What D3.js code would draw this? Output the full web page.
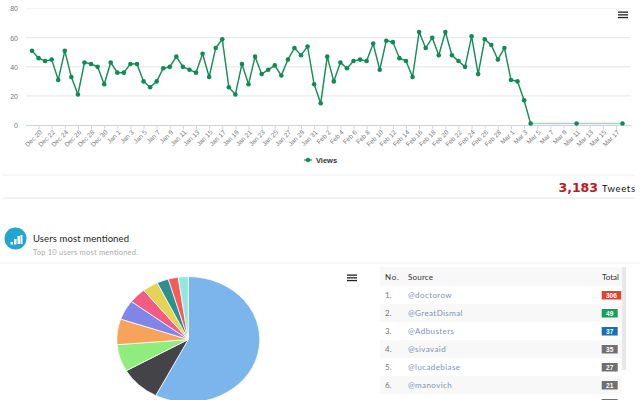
<!DOCTYPE html>
<html>
<head>
<meta charset="utf-8">
<script src="https://cdn.jsdelivr.net/npm/d3@7"></script>
<style>
  body { margin: 0; background: #fff; overflow: hidden; }
  svg { display: block; }
  .axis text { font-family: "Liberation Sans", sans-serif; font-size: 6.5px; fill: #777; }
  .ui { font-family: Lato, sans-serif; }
</style>
</head>
<body>
<svg id="chart" width="640" height="400"></svg>
<script>
const days = [
  'Dec 19','Dec 20','Dec 21','Dec 22','Dec 23','Dec 24','Dec 25','Dec 26','Dec 27','Dec 28','Dec 29','Dec 30','Dec 31',
  'Jan 1','Jan 2','Jan 3','Jan 4','Jan 5','Jan 6','Jan 7','Jan 8','Jan 9','Jan 10','Jan 11','Jan 12','Jan 13','Jan 14','Jan 15','Jan 16',
  'Jan 17','Jan 18','Jan 19','Jan 20','Jan 21','Jan 22','Jan 23','Jan 24','Jan 25','Jan 26','Jan 27','Jan 28','Jan 29','Jan 30','Jan 31',
  'Feb 1','Feb 2','Feb 3','Feb 4','Feb 5','Feb 6','Feb 7','Feb 8','Feb 9','Feb 10','Feb 11','Feb 12','Feb 13','Feb 14','Feb 15','Feb 16',
  'Feb 17','Feb 18','Feb 19','Feb 20','Feb 21','Feb 22','Feb 23','Feb 24','Feb 25','Feb 26','Feb 27','Feb 28','Feb 29',
  'Mar 1','Mar 2','Mar 3','Mar 4','Mar 5','Mar 6','Mar 7','Mar 8','Mar 9','Mar 10','Mar 11','Mar 12','Mar 13','Mar 14','Mar 15','Mar 16','Mar 17','Mar 18'
];
const views = [
  51,46,44,45,31,51,33,21,43,42,40,28,43,
  36,36,42,42,30,26,30,39,40,47,40,38,36,49,33,53,
  59,26,21,42,28,47,35,38,41,34,45,53,48,54,28,
  15,47,30,43,39,44,45,44,56,38,58,57,46,44,33,64,
  53,60,48,64,48,44,40,61,35,59,55,45,53,
  31,30,17,1,null,null,null,null,null,null,1,null,null,null,null,null,null,1
];
const yTicks = [0, 20, 40, 60, 80];

const pieValues = [306, 49, 37, 35, 27, 21, 19, 14, 12, 12];
const pieColors = ['#7cb5ec','#434348','#90ed7d','#f7a35c','#8085e9','#f15c80','#e4d354','#2b908f','#f45b5b','#91e8e1'];

const tableRanks = ['1.','2.','3.','4.','5.','6.'];
const tableSources = ['@doctorow','@GreatDismal','@Adbusters','@sivavaid','@lucadebiase','@manovich'];
const tableTotals = [306, 49, 37, 35, 27, 21];
const badgeColors = ['#d9472f','#17a05d','#1a6fb0','#707070','#707070','#707070','#707070'];

const svg = d3.select('#chart');
const lineColor = '#118a55';

// line chart
const x = d3.scalePoint().domain(days).range([32, 622.5]);
const y = d3.scaleLinear().domain([0, 80]).range([125, 8.7]);

svg.append('g').selectAll('line').data(yTicks.slice(1)).enter().append('line')
  .attr('x1', 26).attr('x2', 631)
  .attr('y1', d => y(d)).attr('y2', d => y(d))
  .attr('stroke', d => d == 80 ? '#f3f3f3' : '#e4e4e4');

const xAxis = svg.append('g').attr('class', 'axis').attr('transform', 'translate(0,125.5)')
  .call(d3.axisBottom(x).tickValues(days.filter((d, i) => i % 2 == 1)).tickSize(4).tickSizeOuter(0));
xAxis.select('.domain').attr('stroke', '#ccd6eb').attr('d', 'M26,0H631');
xAxis.selectAll('line').attr('stroke', '#ccd6eb');
xAxis.selectAll('text')
  .attr('text-anchor', 'end')
  .attr('transform', 'translate(1,5) rotate(-45)')
  .attr('x', 0).attr('y', 0).attr('dy', '0.5em');

const yAxis = svg.append('g').attr('class', 'axis').attr('transform', 'translate(18,0)')
  .call(d3.axisLeft(y).tickValues(yTicks).tickSize(0));
yAxis.select('.domain').remove();
yAxis.selectAll('text').attr('x', 0).style('font-size', '7px');

const points = days.map((d, i) => ({ day: d, value: views[i] }));
const line = d3.line().defined(d => d.value != null).x(d => x(d.day)).y(d => y(d.value));

// the empty stretch in March shows as a paler line
svg.append('path').datum(points.filter(d => d.value != null))
  .attr('fill', 'none').attr('stroke', '#a5d6bf').attr('stroke-width', 1.6)
  .attr('d', line);
svg.append('path').datum(points)
  .attr('fill', 'none').attr('stroke', lineColor).attr('stroke-width', 1.2)
  .attr('stroke-linejoin', 'round')
  .attr('d', line);
svg.append('g').selectAll('circle').data(points.filter(d => d.value != null)).enter().append('circle')
  .attr('cx', d => x(d.day)).attr('cy', d => y(d.value)).attr('r', 2.3)
  .attr('fill', lineColor);

// legend
svg.append('line').attr('x1', 304).attr('x2', 312).attr('y1', 160).attr('y2', 160)
  .attr('stroke', lineColor).attr('stroke-width', 1.2);
svg.append('circle').attr('cx', 308).attr('cy', 160).attr('r', 2.2).attr('fill', lineColor);
svg.append('text').attr('x', 316).attr('y', 162.5)
  .attr('font-family', 'Liberation Sans, sans-serif').attr('font-size', 7.5).attr('font-weight', 'bold')
  .attr('fill', '#333').text('Views');

function menuIcon(left, top, width) {
  [0, 2.7, 5.4].forEach(dy => {
    svg.append('rect').attr('x', left).attr('y', top + dy).attr('width', width).attr('height', 1.3).attr('fill', '#222');
  });
}
menuIcon(618, 11.5, 10);
menuIcon(347, 274.5, 10);

// separators and tweet count
[[3, 635, 175, '#eeeeee'], [3, 635, 198, '#e6e6e6'], [0, 640, 263, '#f0f0f0']].forEach(s => {
  svg.append('line').attr('x1', s[0]).attr('x2', s[1]).attr('y1', s[2]).attr('y2', s[2]).attr('stroke', s[3]);
});
svg.append('text').attr('x', 598).attr('y', 192).attr('text-anchor', 'end')
  .attr('font-family', 'DejaVu Sans, sans-serif').attr('font-size', 12.5).attr('font-weight', 'bold')
  .attr('fill', '#c4161c').text('3,183');
svg.append('text').attr('class', 'ui').attr('x', 602).attr('y', 192)
  .attr('font-size', 9.5).attr('fill', '#111').attr('textLength', 33).text('Tweets');

// panel heading
svg.append('circle').attr('cx', 15.5).attr('cy', 238.5).attr('r', 11).attr('fill', '#22a6cf');
[[10.5, 242, 2.5, 2.5], [14, 239, 2.5, 5.5], [17.5, 236, 2.5, 8], [20.5, 235, 2, 9]].forEach(b => {
  svg.append('rect').attr('x', b[0]).attr('y', b[1]).attr('width', b[2]).attr('height', b[3]).attr('fill', '#fff');
});
svg.append('text').attr('class', 'ui').attr('x', 33).attr('y', 241.5)
  .attr('font-size', 9.5).attr('fill', '#222').attr('textLength', 96).text('Users most mentioned');
svg.append('text').attr('class', 'ui').attr('x', 33).attr('y', 255)
  .attr('font-size', 7.5).attr('fill', '#aaa').attr('textLength', 105).text('Top 10 users most mentioned.');

// pie, squashed as in the reference
const pie = d3.pie().sort(null).value(d => d);
const arc = d3.arc().innerRadius(0).outerRadius(71.5);
svg.append('g').attr('transform', 'translate(188.3,339.5) scale(1,0.88)')
  .selectAll('path').data(pie(pieValues)).enter().append('path')
  .attr('d', arc)
  .attr('fill', (d, i) => pieColors[i])
  .attr('stroke', '#fff').attr('stroke-width', 0.8);

// table
const rowY = d3.scaleLinear().domain([0, 1]).range([295, 313]);
const table = svg.append('g');
table.append('rect').attr('x', 380).attr('y', 267).attr('width', 242).attr('height', 19).attr('fill', '#f8f8f8');
table.selectAll('rect.band').data(tableRanks).enter().append('rect').attr('class', 'band')
  .attr('x', 380).attr('width', 242)
  .attr('y', (d, i) => rowY(i) - 9).attr('height', 18)
  .attr('fill', (d, i) => i % 2 ? '#f8f8f8' : '#fff');
table.append('rect').attr('x', 622).attr('y', 267).attr('width', 4).attr('height', 103).attr('fill', '#e8e8e8');

[['No.', 385, 14], ['Source', 408, 25], ['Total', 602, 17]].forEach(h => {
  table.append('text').attr('class', 'ui').attr('x', h[1]).attr('y', 279.5)
    .attr('font-size', 8).attr('fill', '#333').attr('textLength', h[2]).text(h[0]);
});
table.selectAll('text.rank').data(tableRanks).enter().append('text').attr('class', 'ui rank')
  .attr('x', 385).attr('y', (d, i) => rowY(i) + 2.5)
  .attr('font-size', 8).attr('fill', '#777').text(d => d);
table.selectAll('text.source').data(tableSources).enter().append('text').attr('class', 'ui source')
  .attr('x', 408).attr('y', (d, i) => rowY(i) + 2.5)
  .attr('font-size', 8).attr('fill', '#7f92b0').attr('letter-spacing', 0.4).text(d => d);
// the next row's badge just shows at the bottom edge, so one more rect than labels
table.selectAll('rect.badge').data(badgeColors).enter().append('rect').attr('class', 'badge')
  .attr('x', 601.7).attr('y', (d, i) => rowY(i) - 4)
  .attr('width', (d, i) => i == 0 ? 19.5 : 16).attr('height', 8.5)
  .attr('fill', d => d);
table.selectAll('text.total').data(tableTotals).enter().append('text').attr('class', 'total')
  .attr('x', d => d > 99 ? 611.4 : 609.7).attr('y', (d, i) => rowY(i) + 2.5)
  .attr('text-anchor', 'middle').attr('font-family', 'Liberation Sans, sans-serif')
  .attr('font-size', 6.5).attr('font-weight', 'bold').attr('fill', '#fff').text(d => d);
</script>
</body>
</html>
